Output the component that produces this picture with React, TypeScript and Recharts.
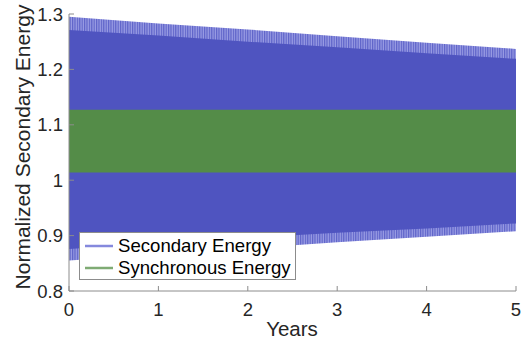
import { ComposedChart, Area, XAxis, YAxis, Legend } from 'recharts';

// Envelope of the fast secondary-energy oscillation, read at each whole year
const years = [0, 1, 2, 3, 4, 5];
const secondaryPeak = [1.295, 1.283, 1.272, 1.26, 1.248, 1.237];
const secondaryUpper = [1.271, 1.261, 1.25, 1.24, 1.229, 1.219];
const secondaryLower = [0.876, 0.886, 0.896, 0.905, 0.913, 0.922];
const secondaryTrough = [0.855, 0.866, 0.877, 0.888, 0.898, 0.908];

// Synchronous energy band
const synchronousHigh = [1.127, 1.127, 1.127, 1.127, 1.127, 1.127];
const synchronousLow = [1.014, 1.014, 1.014, 1.014, 1.014, 1.014];

const xTicks = [0, 1, 2, 3, 4, 5];
const yTicks = [0.8, 0.9, 1, 1.1, 1.2, 1.3];

const seriesNames = ['Secondary Energy', 'Synchronous Energy'];
const legendColors = ['#8589dd', '#7fab74'];

const BLUE = '#4f54c0';
const GREEN = '#548c48';
const AXIS = '#8c8c8c';
const TEXT = '#262626';
const FONT = '"Liberation Sans", Arial, Helvetica, sans-serif';

const data = years.map((year, i) => ({
  year,
  swing: [secondaryTrough[i], secondaryPeak[i]],
  core: [secondaryLower[i], secondaryUpper[i]],
  sync: [synchronousLow[i], synchronousHigh[i]],
}));

function LegendBox() {
  return (
    <div
      style={{
        width: 215,
        height: 46,
        border: '1px solid #8c8c8c',
        background: '#fff',
        fontFamily: FONT,
        fontSize: 18.6,
        color: '#000',
        boxSizing: 'content-box',
      }}
    >
      {seriesNames.map((name, i) => (
        <div key={name} style={{ display: 'flex', alignItems: 'center', height: 22, marginTop: i === 0 ? 2 : 0 }}>
          <svg width={38} height={22} style={{ flex: 'none' }}>
            <line x1={5} x2={33} y1={11} y2={11} stroke={legendColors[i]} strokeWidth={2.5} />
          </svg>
          <span style={{ lineHeight: '22px', whiteSpace: 'nowrap' }}>{name}</span>
        </div>
      ))}
    </div>
  );
}

export default function App() {
  return (
    <div style={{ position: 'absolute', left: 0, top: 0, width: 528, height: 344, background: '#fff' }}>
      <ComposedChart
        width={528}
        height={344}
        data={data}
        margin={{ top: 14, right: 12, bottom: 0, left: 0 }}
        style={{ fontFamily: FONT }}
      >
        <defs>
          {/* fine vertical ripple at the edges of the oscillating band */}
          <pattern id="ripple" patternUnits="userSpaceOnUse" width={2.4} height={10}>
            <rect x={0} y={0} width={2.4} height={10} fill="#9b9ee4" />
            <rect x={0} y={0} width={1.2} height={10} fill="#5d62c8" />
          </pattern>
        </defs>
        <XAxis
          dataKey="year"
          type="number"
          domain={[0, 5]}
          ticks={xTicks}
          allowDataOverflow
          height={53}
          stroke={AXIS}
          tickSize={-5}
          tickMargin={17}
          tick={{ fill: TEXT, fontSize: 18.5 }}
          label={{
            content: () => (
              <text x={292} y={336} textAnchor="middle" fill={TEXT} fontSize={20.5} fontFamily={FONT}>
                Years
              </text>
            ),
          }}
        />
        <YAxis
          type="number"
          domain={[0.8, 1.3]}
          ticks={yTicks}
          allowDataOverflow
          width={69}
          stroke={AXIS}
          tickSize={-5}
          tickMargin={11}
          tick={{ fill: TEXT, fontSize: 18.5 }}
          label={{
            content: () => (
              <text
                x={30}
                y={147}
                transform="rotate(-90 30 147)"
                textAnchor="middle"
                fill={TEXT}
                fontSize={21}
                fontFamily={FONT}
              >
                Normalized Secondary Energy
              </text>
            ),
          }}
        />
        <Area
          type="linear"
          dataKey="swing"
          stroke="none"
          fill="url(#ripple)"
          fillOpacity={1}
          isAnimationActive={false}
          activeDot={false}
        />
        <Area
          type="linear"
          dataKey="core"
          stroke="none"
          fill={BLUE}
          fillOpacity={1}
          isAnimationActive={false}
          activeDot={false}
        />
        <Area
          type="linear"
          dataKey="sync"
          stroke="none"
          fill={GREEN}
          fillOpacity={1}
          isAnimationActive={false}
          activeDot={false}
        />
        <Legend
          layout="vertical"
          align="center"
          verticalAlign="middle"
          content={() => <LegendBox />}
          wrapperStyle={{ left: 79, top: 232, width: 217, height: 48 }}
        />
      </ComposedChart>
    </div>
  );
}
